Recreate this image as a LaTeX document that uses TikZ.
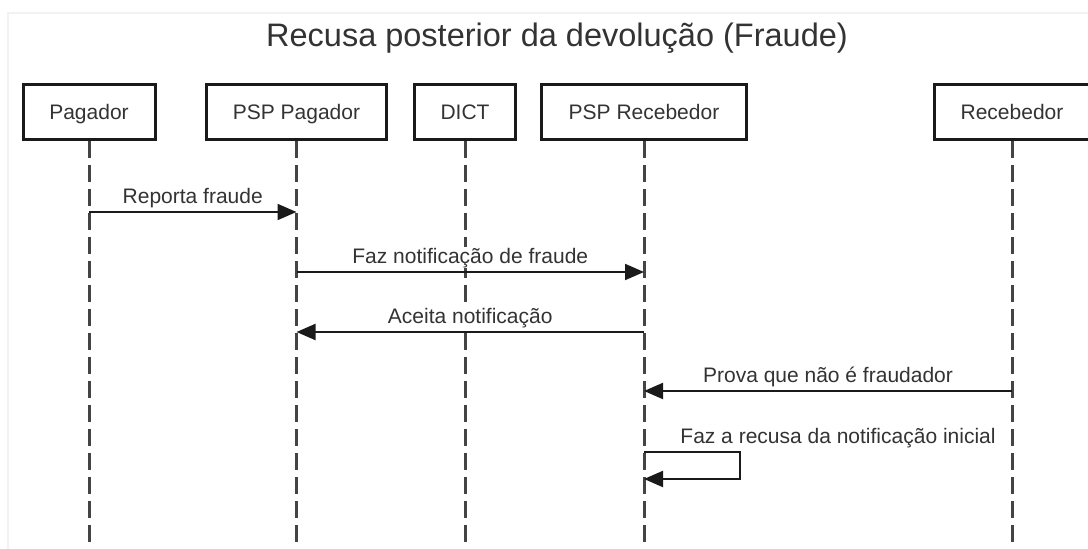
\documentclass[tikz,border=0pt]{standalone}
\usepackage{fontspec}
\setmainfont{Liberation Sans}
\usetikzlibrary{arrows.meta}
\definecolor{txt}{HTML}{333333}
\definecolor{ln}{HTML}{1a1a1a}
\definecolor{life}{HTML}{444444}
\begin{document}
\begin{tikzpicture}[x=1pt,y=-1pt]
	\useasboundingbox (0,0) rectangle (1088,549);
	\draw[line width=1.5pt,gray!10] (8,600) -- (8,13) -- (1100,13);
	\node (t) at (557,38) [text=txt,font=\fontsize{32.5}{38}\selectfont]{Recusa posterior da devolução (Fraude)};

	\tikzstyle every node=[draw=ln,line width=3pt,minimum height=55pt,text height=15pt,text depth=0pt,text=txt,font=\fontsize{21}{25}\selectfont]
	\node (a1) at (89,112) [minimum width=132pt]{Pagador};
	\node (a2) at (296.5,112) [minimum width=180pt]{PSP Pagador};
	\node (a3) at (465,112) [minimum width=101pt]{DICT};
	\node (a4) at (644,112) [minimum width=205pt]{PSP Recebedor};
	\node (a5) at (1012,112) [minimum width=155pt]{Recebedor};

	\tikzstyle every node=[]
	\tikzstyle life=[draw=life,line width=3pt,dash pattern=on 17pt off 7pt]
	\tikzstyle msg=[draw=ln,line width=2pt,-{Triangle[length=19pt,width=16pt]}]
	\tikzstyle lbl=[fill=white,inner sep=1pt,text=txt,font=\fontsize{21}{25}\selectfont,anchor=base,yshift=9pt]

	\draw[life] (a1) -- (a1 |- 0,549);
	\draw[life] (a2) -- (a2 |- 0,549);
	\draw[life] (a3) -- (a3 |- 0,549);
	\draw[life] (a4) -- (a4 |- 0,549);
	\draw[life] (a5) -- (a5 |- 0,549);

	\draw[msg] (a1 |- 0,212) -- (a2 |- 0,212) node[lbl,midway]{Reporta fraude};
	\draw[msg] (a2 |- 0,272) -- (a4 |- 0,272) node[lbl,midway]{Faz notificação de fraude};
	\draw[msg] (a4 |- 0,332) -- (a2 |- 0,332) node[lbl,midway]{Aceita notificação};
	\draw[msg] (a5 |- 0,391) -- (a4 |- 0,391) node[lbl,midway]{Prova que não é fraudador};

	\coordinate (r) at (740,466);
	\draw[msg] (a4 |- 0,452) -| (r) |- (a4 |- 0,479);
	\node (s) at (838,443) [lbl,yshift=-9pt]{Faz a recusa da notificação inicial};
\end{tikzpicture}
\end{document}
